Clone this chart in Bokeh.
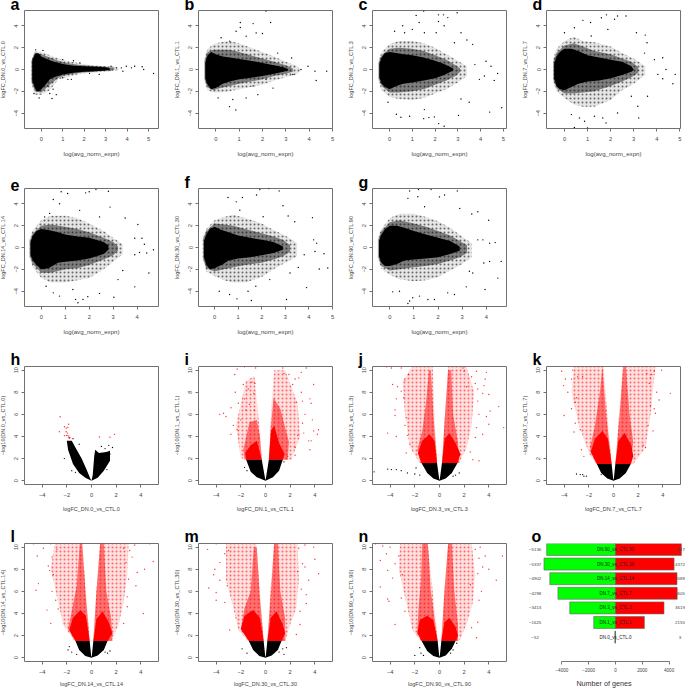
from bokeh.plotting import figure
from bokeh.layouts import column, row
from bokeh.models import Title, FixedTicker, Range1d
from bokeh.core.properties import value
from bokeh.embed import file_html
from bokeh.resources import INLINE

FONT = "Liberation Sans"
MA_X_TICKS = [0, 1, 2, 3, 4, 5]
MA_Y_TICKS = [-4, -2, 0, 2, 4]
V_X_TICKS = [-4, -2, 0, 2, 4]
V_Y_TICKS = [0, 2, 4, 6, 8, 10]

# ---------- MA plots: core band, mid band, sparse band, single points
a_cx = [-0.42, -0.3, -0.2, -0.1, 0, 0.2, 0.4, 0.6, 1, 1.5, 2, 2.5, 3, 3.2]
a_chi = [0.8, 1.4, 1.5, 1.45, 1.2, 1.0, 0.85, 0.7, 0.5, 0.35, 0.3, 0.25, 0.2, 0.1]
a_clo = [-1.0, -1.7, -2.0, -2.0, -1.8, -1.4, -0.9, -0.7, -0.45, -0.3, -0.2, -0.15, -0.1, 0.0]
a_mx = [-0.45, -0.3, 0, 0.4, 0.8, 1.2, 1.8, 2.4, 3, 3.4]
a_mhi = [0.8, 1.55, 1.4, 1.1, 0.8, 0.6, 0.42, 0.32, 0.25, 0.15]
a_mlo = [-1.05, -2, -2.1, -1.4, -0.75, -0.5, -0.3, -0.2, -0.12, -0.02]
a_hx = [-0.48, -0.3, 0, 0.4, 0.8, 1.2, 1.8, 2.4, 3, 3.6]
a_hhi = [0.7, 1.7, 1.6, 1.3, 1.0, 0.8, 0.55, 0.4, 0.3, 0.2]
a_hlo = [-1.1, -2.3, -2.3, -1.9, -0.9, -0.7, -0.4, -0.3, -0.2, -0.05]
a_px = [3.73, 4.2, 4.35, 4.7, 4.77, 5.23, 3.96, 0.5, 0.7, -0.34, -0.1, 1.24, 1.4, 1.0, 1.8, 1.5, 1.0, 0.08, -0.26, 3.5, 3.2, 3.25, 3.8, 0.55, 0.4, 0.3, 2.7, 2.25]
a_py = [0.15, 0.15, 0.3, 0.25, 0, -0.37, 0.3, -2.66, -2.3, -2.2, -2.6, -0.9, -0.9, -0.75, 0.6, 0.8, 0.9, 1.75, 1.8, 0.15, -0.06, 0.3, -0.15, -1.8, -2.2, -1.5, -0.45, -0.35]

b_cx = [-0.45, -0.35, -0.2, 0, 0.3, 0.6, 1, 1.5, 2, 2.5, 2.9, 3.1]
b_chi = [0.6, 1.3, 1.6, 1.4, 1.2, 1.1, 0.95, 0.8, 0.6, 0.4, 0.2, 0.05]
b_clo = [-0.8, -1.4, -1.8, -1.7, -1.3, -1.1, -0.9, -0.75, -0.6, -0.4, -0.2, -0.1]
b_mx = [-0.48, -0.35, -0.1, 0.2, 0.6, 1, 1.5, 2, 2.5, 3, 3.3]
b_mhi = [0.8, 1.6, 1.8, 1.8, 1.8, 1.6, 1.3, 1, 0.7, 0.4, 0.1]
b_mlo = [-0.9, -1.65, -1.9, -1.7, -1.5, -1.3, -1.1, -0.9, -0.6, -0.4, -0.2]
b_hx = [-0.5, -0.35, -0.1, 0.2, 0.6, 1, 1.5, 2, 2.5, 3, 3.4, 3.6]
b_hhi = [1, 1.9, 2.3, 2.5, 2.6, 2.4, 2, 1.6, 1.2, 0.7, 0.4, 0.1]
b_hlo = [-1, -1.9, -2.1, -2.1, -2, -1.8, -1.6, -1.4, -1, -0.7, -0.5, -0.2]
b_px = [1.05, 1.05, 1.6, 2.35, 2.15, 0.59, 0.86, 1.3, 1.8, 4.3, 3.95, 4.75, 4.25, 3.65, 3.3, 3.25, 2.65, 2, 1.73, 1.3, 0.87, 0.6, 0.23, 0.73, 0.1, 2.45, 1.6, 2.15]
b_py = [3.85, 4.3, 4.2, 4.3, 5.35, -3.4, -3.7, -2.6, -2.3, -1, 0.3, -0.15, -0.15, 0, -0.45, 1.05, 1.5, 3.3, 3.35, 3.05, 3.5, 2.6, 2.9, -2.75, -2.6, -1.7, -1.5, -0.9]

c_cx = [-0.45, -0.35, -0.2, 0, 0.3, 0.6, 1, 1.5, 2, 2.4, 2.8]
c_chi = [0.5, 1.1, 1.5, 1.6, 1.5, 1.4, 1.3, 1.1, 0.8, 0.5, 0.1]
c_clo = [-0.7, -1.3, -1.6, -1.8, -1.5, -1.3, -1.2, -1, -0.8, -0.5, -0.1]
c_mx = [-0.48, -0.35, 0, 0.4, 1, 1.5, 2, 2.5, 2.9, 3.1]
c_mhi = [0.6, 1.3, 1.9, 2, 1.9, 1.7, 1.3, 0.9, 0.4, 0.1]
c_mlo = [-0.8, -1.5, -2.1, -2.1, -2, -1.8, -1.4, -1, -0.6, -0.2]
c_hx = [-0.5, -0.35, 0, 0.4, 1, 1.5, 2, 2.5, 3, 3.4]
c_hhi = [0.8, 1.6, 2.3, 2.6, 2.6, 2.4, 2, 1.4, 0.8, 0.3]
c_hlo = [-1, -1.9, -2.5, -2.7, -2.8, -2.6, -2.2, -1.8, -1.2, -0.6]
c_px = [1.17, 1.5, 1.3, 2.15, 2.37, 2.15, 2.4, 2.97, 2.56, 3.14, 3.4, 3.65, 2.85, 4.24, 3.75, 4.46, 4.75, 4.17, 3.95, 4.6, 4.4, 4.93, 3.03, 2.16, 1.73, 1.97, 2.4, 1.5, 0.5, 0.88, 0.3, -0.07, 1.53, 3.5, 3.14, 0.22, 0.58, 1, 0.66, 1.53, 2.05]
c_py = [4.95, 5.35, 4.3, 5, 5, 4.4, 4, 5.2, 4.75, 3.36, 2.7, 2.3, 2.45, 0.76, 0.45, 0.3, -0.37, -0.6, -0.9, -1, -3.9, -3.5, -4.2, -4.95, -4.4, -4.34, -5.2, -4.5, -4.37, -4.28, -4.1, -3, -3.67, -3, -2.7, 3.5, 4, 3.67, 3.36, 3.36, 3.36]

d_cx = [-0.45, -0.35, -0.2, 0, 0.3, 0.6, 1, 1.5, 2, 2.5, 2.9, 3]
d_chi = [0.5, 1.2, 1.6, 1.9, 1.9, 1.7, 1.3, 1.1, 0.9, 0.7, 0.3, 0]
d_clo = [-0.8, -1.5, -1.8, -1.9, -1.6, -1.3, -1.1, -1, -0.8, -0.5, -0.2, -0.05]
d_mx = [-0.48, -0.35, 0, 0.4, 0.8, 1.3, 2, 2.5, 2.9, 3.2]
d_mhi = [0.7, 1.5, 2.2, 2.4, 2.1, 1.7, 1.4, 1, 0.7, 0.2]
d_mlo = [-0.9, -1.7, -2.2, -2.2, -2.1, -2, -1.5, -1.1, -0.7, -0.3]
d_hx = [-0.5, -0.35, 0, 0.4, 0.8, 1.3, 2, 2.5, 3, 3.5]
d_hhi = [0.9, 1.9, 2.6, 3, 2.6, 2.5, 2.1, 1.5, 1, 0.3]
d_hlo = [-1, -2, -2.6, -3.2, -3.4, -3.4, -2.8, -1.9, -1.3, -0.5]
d_px = [0.8, 1.13, 1.6, 1.82, 2.3, 2.67, 2.17, 3.12, 3.5, 3.58, 3.47, 4.26, 3.9, 4.4, 4.8, 4.05, 4.26, 4.7, 3.22, 3.18, 3.6, 1.66, 0.43, 1, 0.87, 0.65, 1.8, 0.3, 1.3, 2.3, 2.9, 0.43, 0, 1.16, 1.88]
d_py = [4.5, 4.3, 4.74, 5, 4.9, 4.9, 4.6, 3.36, 3.15, 2.45, 1.5, 1.07, 0.9, 0, -0.45, -0.45, -0.85, -1.3, -4.43, -3.36, -2.45, -4.43, -5.3, -5.35, -4.74, -4.43, -4.9, -4.13, -4.28, -3.98, -2.45, 3.82, 3.36, 3.06, 3.67]

e_cx = [-0.45, -0.35, -0.2, 0, 0.3, 0.7, 1, 1.5, 2, 2.6, 2.8]
e_chi = [0.5, 1.1, 1.5, 1.7, 1.6, 1.4, 1.2, 1, 0.9, 0.5, 0.2]
e_clo = [-0.7, -1.2, -1.6, -2, -1.9, -1.4, -1.3, -1.2, -1, -0.6, -0.2]
e_mx = [-0.48, -0.35, 0, 0.4, 1, 1.5, 2, 2.6, 3, 3.2]
e_mhi = [0.6, 1.3, 2, 2.1, 1.9, 1.7, 1.4, 0.9, 0.5, 0.1]
e_mlo = [-0.8, -1.5, -2.3, -2.3, -2, -1.9, -1.6, -1.1, -0.7, -0.3]
e_hx = [-0.5, -0.35, 0, 0.4, 1, 1.5, 2, 2.6, 3, 3.4]
e_hhi = [0.8, 1.6, 2.5, 2.9, 2.9, 2.7, 2.2, 1.5, 0.9, 0.3]
e_hlo = [-0.9, -1.8, -2.8, -3.2, -3.2, -3, -2.8, -2, -1.3, -0.6]
e_px = [0.83, 1.1, 0.5, 1.85, 2.28, 2, 2.8, 2.87, 3.5, 4.03, 3.9, 4.2, 4.3, 4.68, 4.4, 4.1, 3.9, 4.49, 3.9, 3.03, 2.43, 1.94, 1.74, 1.53, 1.43, 0.76, 0.5, 0.2, 3.2, 3.4, 1.32, 0.35, 0.76, 0.14, 1.6, 2.43]
e_py = [5.1, 4.94, 4.4, 5, 5.3, 5.1, 5.15, 3.7, 2.7, 2.1, 0.85, 0.85, 0.3, -0.2, -0.5, -0.45, -0.66, -2.33, -3.6, -4.55, -4.2, -4.5, -4.75, -5.06, -4.75, -4.45, -4.15, -3.55, -2.94, -2.1, -3.85, 3.12, 4, 2.8, 3.4, 2.8]

f_cx = [-0.45, -0.35, -0.2, 0, 0.3, 0.6, 1, 1.5, 2, 2.5, 2.9]
f_chi = [0.6, 1.2, 1.7, 1.9, 1.6, 1.4, 1.1, 0.9, 0.7, 0.5, 0.1]
f_clo = [-0.9, -1.6, -2, -1.9, -1.6, -1.2, -1, -0.9, -0.7, -0.5, -0.2]
f_mx = [-0.48, -0.35, 0, 0.4, 0.8, 1.3, 2, 2.5, 2.9, 3.2]
f_mhi = [0.8, 1.5, 2.2, 2.1, 2, 1.7, 1.3, 1, 0.7, 0.2]
f_mlo = [-1, -1.9, -2.2, -2, -1.8, -1.6, -1.4, -1.1, -0.8, -0.4]
f_hx = [-0.5, -0.35, 0, 0.4, 0.8, 1.3, 2, 2.5, 3, 3.5]
f_hhi = [0.9, 1.7, 2.5, 2.8, 3, 2.7, 2.2, 1.6, 1.1, 0.4]
f_hlo = [-1.1, -2.2, -2.6, -3, -3.2, -3.2, -2.7, -2, -1.4, -0.8]
f_px = [2.3, 1.92, 2.74, 1.78, 1.18, 0.57, 0.92, 2.9, 3.12, 3.4, 4.15, 4.2, 4.33, 4.26, 4.64, 3.8, 4.44, 4.8, 3.9, 3.05, 1.56, 0.95, 0.64, 0.2, 1.75, 3.2, 3.55, 2.34, 1.42, 1.07, 2.06]
f_py = [5.4, 5.3, 5.18, 4.8, 4.58, 4.58, 4.18, 3.82, 2.88, 2.36, 2.73, 0.7, 0.4, -0.36, -0.57, -0.66, -1.97, -1.88, -3.67, -4.76, -4.85, -4.7, -4.3, -4, -3.55, -2.33, -1.82, -2.94, -4, 3.42, 2.82]

g_cx = [-0.45, -0.35, -0.2, 0, 0.3, 0.6, 1, 1.5, 2, 2.5, 2.9]
g_chi = [0.6, 1.2, 1.7, 2, 2, 1.8, 1.5, 1.2, 0.9, 0.6, 0.1]
g_clo = [-0.8, -1.4, -1.7, -1.7, -1.5, -1.2, -1.1, -1, -0.9, -0.6, -0.3]
g_mx = [-0.48, -0.35, 0, 0.4, 1, 1.5, 2, 2.5, 2.9, 3.2]
g_mhi = [0.7, 1.5, 2.3, 2.5, 2.2, 1.9, 1.5, 1.1, 0.6, 0.2]
g_mlo = [-0.9, -1.7, -2.1, -2, -1.8, -1.7, -1.5, -1.2, -0.9, -0.5]
g_hx = [-0.5, -0.35, 0, 0.4, 1, 1.5, 2, 2.5, 3, 3.4]
g_hhi = [0.9, 1.7, 2.7, 3.1, 3.1, 2.8, 2.4, 1.8, 1, 0.4]
g_hlo = [-1, -2, -2.5, -2.9, -3.1, -3, -2.7, -2.1, -1.5, -0.9]
g_px = [0.82, 1.19, 1.71, 2.27, 2.06, 2.8, 2.9, 3.65, 3.4, 4.1, 3.86, 3.65, 4.14, 4.37, 4.62, 3.9, 4.14, 4.48, 3.95, 3.17, 2.68, 2.4, 1.85, 1.58, 1.23, 0.95, 0.82, 0.75, 0.12, 0.4, 3.44, 3.3, 0.75, 1.16, 1.44]
g_py = [5.18, 5.3, 5.3, 4.8, 4.63, 5.18, 3.58, 3.27, 3.06, 2.5, 0.7, 0.7, 0.4, 0.45, -1.27, -1.42, -1.27, -2.8, -3.85, -3.6, -4.3, -4.15, -4.76, -4.76, -4.45, -4.6, -4.9, -5.12, -4.06, -4, -2.33, -2.18, 4.5, 4.64, 3.73]

# ---------- Volcano plots: black base outline, solid / mid / sparse red outlines, single points
h_lx = [0, -0.5, -1, -1.5, -1.9, -2, -1.6, -1.2, -0.8, -0.4, -0.1]
h_ly = [0, 0.25, 0.7, 1.5, 2.8, 3.6, 3.6, 2.8, 2, 1, 0.2]
h_rx = [0, 0.1, 0.22, 0.3, 0.6, 1.2, 1.5, 1.5, 1, 0.5]
h_ry = [0, 0.5, 2.2, 2.8, 2.5, 2.6, 2.7, 1.8, 0.9, 0.25]
h_redx = [-2.54, -1.86, -2.19, -1.92, -2.05, -2.6, -2.19, -1.84, -2, -1.78, 0.65, 1.49, 1.86, -2.05, -1.95, -2, -1.85, -1.75]
h_redy = [5.78, 5.1, 4.88, 4.82, 4.43, 4.43, 4.07, 3.89, 4.07, 3.83, 3.95, 3.92, 4.19, 4.75, 4.3, 4.1, 4.05, 3.9]
h_blkx = [-2.2, -1.6, -1.3, 1.5, 1.7, 1.4, 0.8, 1.1, 1.25, -1.5, -1]
h_blky = [2, 0.9, 0.75, 2.4, 3, 3.2, 3.1, 2.9, 1, 3.8, 3.3]

i_bx = [-1.57, -1.2, -0.7, 0, 0.6, 1.1, 1.4, 0.27, 0.02, -0.02, -0.3]
i_by = [1.9, 0.8, 0.3, 0, 0.3, 0.9, 1.9, 1.9, 0.1, 0.1, 1.9]
i_dlx = [-1.57, -1.65, -1.2, -0.7, -0.3]
i_dly = [1.9, 2.5, 3.2, 3.6, 1.9]
i_drx = [0.27, 0.45, 0.7, 1.1, 1.55, 1.4]
i_dry = [1.9, 4.5, 5, 3.4, 2.4, 1.9]
i_clx = [-1.7, -1.8, -1.3, -0.7, -0.45, -0.3]
i_cly = [1.9, 2.8, 5.3, 5.5, 4, 1.9]
i_crx = [0.27, 0.45, 0.65, 1.2, 1.9, 1.8]
i_cry = [1.9, 5, 7.5, 6.5, 3.5, 1.9]
i_slx = [-2, -2.4, -1.6, -0.9, -0.5, -0.3]
i_sly = [2, 5, 9, 9.5, 5, 2]
i_srx = [0.27, 0.5, 0.7, 1.6, 2.6, 2.8, 2.1]
i_sry = [1.9, 7, 10, 10, 7, 4, 1.9]
i_redx = [-2.5, -2.3, -1.7, -0.8, -2.45, -1.8, -1.1, -0.85, -1.4, -0.95, -1.7, -2.2, -2.8, -3.4, -3.7, -3.2, -2.6, -2.8, -2.3, -2, -1.3, -1.6, -0.9, 1.4, 3.3, 2.9, 2.4, 2.7, 3.9, 1.9, 1.5, 2.2, 2.9, 3, 2.5, 3.6, 3.7, 3.8, 3.2, 3, 4.3, 3.9, 4.2, 3.1, 3.5, 3.7, 3.6, 2.4, 1.8, 2.4, 2.6]
i_redy = [9.6, 10.1, 10.3, 10.2, 8, 8.7, 8.9, 8.8, 8.3, 7.9, 7.4, 7, 6.6, 6.1, 6, 5.8, 5, 4.2, 4.6, 5.5, 6.9, 6.4, 6.4, 10.2, 10.2, 9.8, 9.2, 9.3, 8.7, 9.6, 9.7, 8.7, 8, 7.2, 7.1, 7.4, 7, 5.5, 6, 5.2, 4.6, 4.5, 4.2, 4.3, 3.6, 3.6, 2.8, 2.3, 2.2, 3, 4.1]
i_blkx = [-1.7, -1.5, 1.5]
i_blky = [1.2, 0.9, 1.7]

j_bx = [-1.46, -1, -0.5, 0, 0.5, 1, 1.46, 0.2, 0.02, -0.02, -0.2]
j_by = [1.6, 0.7, 0.2, 0, 0.2, 0.7, 1.6, 1.6, 0.1, 0.1, 1.6]
j_dlx = [-1.46, -1.75, -1.4, -0.8, -0.4, -0.2]
j_dly = [1.6, 2.5, 3.6, 4.2, 3.6, 1.6]
j_drx = [0.2, 0.42, 0.8, 1.3, 1.7, 1.46]
j_dry = [1.6, 3.8, 4.3, 3.4, 2.4, 1.6]
j_clx = [-1.5, -1.8, -1.4, -1.1, -0.85, -0.7, -0.5, -0.2]
j_cly = [1.6, 2.8, 4.5, 7, 10, 10, 6, 1.6]
j_crx = [0.2, 0.45, 0.7, 0.95, 1.1, 1.5, 1.6]
j_cry = [1.6, 6, 10, 10, 6, 3.5, 1.6]
j_slx = [-1.6, -2.4, -2.8, -3, -2.2, -0.55, -0.45, -0.2]
j_sly = [1.6, 3, 6, 9, 10.33, 10.33, 7, 1.6]
j_srx = [0.2, 0.5, 0.7, 2.2, 2.8, 2.6, 2.2, 1.6]
j_sry = [1.6, 7, 10.33, 10.33, 8, 5, 3, 1.6]
j_redx = [-4.3, -3.9, -3.1, -3.8, -3.4, -3.5, -3.1, -2.8, -2.5, -3.6, -3.6, -2.9, -4.2, -3.5, -2.7, -2.8, -2.6, -2.7, -2.4, 3, 3.8, 2.9, 3.1, 3.7, 3.6, 4, 3.5, 3.1, 4.8, 4.1, 3.8, 3.2, 4, 5.2, 3.5, 3, 2.9, 3.2, 2.7, 2.5, 2.2, 2.6, 2, 1.9]
j_redy = [10.3, 10.2, 10.2, 8.7, 8.5, 7.4, 8.1, 9.1, 9.6, 6.4, 5.9, 7.5, 4.3, 4, 5.7, 5, 4.1, 2.5, 3.3, 9.9, 9.8, 8.8, 8.3, 9.2, 8.6, 7.8, 7.9, 7.2, 6.7, 6.3, 5.8, 6, 5.1, 4.8, 4.2, 4.8, 3.9, 1.8, 1.9, 2.6, 8.5, 9.4, 9.9, 10.2]
j_blkx = [-5.3, -4.2, -3.9, -3.5, -3.1, -2.6, -1.9, -2, -1.6, 1.3, 1.6, 1.1]
j_blky = [0.8, 1.05, 1, 1, 0.9, 0.7, 1.15, 0.6, 0.5, 0.5, 0.7, 0.4]

k_bx = [-1.35, -1, -0.5, 0, 0.5, 1, 1.4, 0.15, 0.02, -0.02, -0.15]
k_by = [1.5, 0.7, 0.2, 0, 0.2, 0.7, 1.5, 1.5, 0.1, 0.1, 1.5]
k_dlx = [-1.35, -1.85, -1.5, -0.9, -0.45, -0.15]
k_dly = [1.5, 2.6, 3.8, 4.5, 3.8, 1.5]
k_drx = [0.15, 0.4, 0.9, 1.45, 1.6, 1.4]
k_dry = [1.5, 3.6, 4.3, 3.2, 2.2, 1.5]
k_clx = [-1.35, -1.9, -1.5, -1.1, -0.9, -0.6, -0.15]
k_cly = [1.5, 3, 5, 8, 10.33, 6, 1.5]
k_crx = [0.15, 0.5, 0.8, 1, 1.3, 1.6, 1.4]
k_cry = [1.5, 6, 10.33, 10.33, 6, 3.5, 1.5]
k_slx = [-1.4, -2, -2.8, -3.4, -3.2, -0.8, -0.5, -0.15]
k_sly = [1.5, 2.5, 5, 8, 10.33, 10.33, 6, 1.5]
k_srx = [0.15, 0.45, 0.75, 3.4, 3, 2.6, 1.6]
k_sry = [1.5, 6, 10.33, 10.33, 6, 3, 1.5]
k_redx = [-4.2, -3.9, -4.05, -3.3, -3.4, -3.7, -4, -3.1, -3.4, -2.9, -3, -2.5, -3.1, -3.2, -2.7, -2.6, -2.4, 3.9, 3.3, 3, 2.9, 3.5, 4.6, 3.7, 3.3, 3.4, 3, 3.2, 2.8, 2.4, 2.6, 3.1, 2.7]
k_redy = [9.9, 9.2, 8.6, 10, 9.2, 8, 5.9, 7.1, 6.5, 9.4, 7.5, 9.4, 5.2, 4.4, 4.6, 2.8, 2.2, 10, 9.9, 9.3, 8.8, 8, 7.9, 7.3, 6.5, 6.1, 6.8, 4.5, 5, 3.2, 3, 9.6, 9.7]
k_blkx = [-3, -2.7, -2.5, -2.4, -2.2, -1]
k_blky = [0.6, 0.55, 0.55, 0.4, 0.4, 0.55]

l_bx = [-1.3, -1, -0.5, 0, 0.5, 1, 1.3, 0.15, 0.02, -0.02, -0.15]
l_by = [1.5, 0.7, 0.15, 0, 0.2, 0.7, 1.5, 1.5, 0.1, 0.1, 1.5]
l_dlx = [-1.3, -1.8, -1.5, -0.9, -0.45, -0.15]
l_dly = [1.5, 2.5, 3.6, 4.3, 3.8, 1.5]
l_drx = [0.15, 0.4, 0.9, 1.4, 1.7, 1.3]
l_dry = [1.5, 3.5, 4.2, 3.2, 2.2, 1.5]
l_clx = [-1.3, -1.9, -1.6, -1.2, -0.95, -0.75, -0.5, -0.15]
l_cly = [1.5, 2.6, 4.2, 6.5, 10.33, 10.33, 6, 1.5]
l_crx = [0.15, 0.4, 0.7, 1, 1.2, 1.6, 1.7]
l_cry = [1.5, 6, 10.33, 10.33, 6, 3.5, 1.5]
l_slx = [-1.4, -2.3, -2.8, -3.3, -3, -0.75, -0.45, -0.15]
l_sly = [1.5, 3, 5.5, 8, 10.33, 10.33, 6, 1.5]
l_srx = [0.15, 0.4, 0.7, 3, 2.9, 2.6, 2.2, 1.6]
l_sry = [1.5, 6, 10.33, 10.33, 7.5, 5, 3, 1.5]
l_redx = [-4.7, -4.4, -3.9, -3.3, -3.5, -3.2, -2.8, -3.4, -3.1, -4.5, -4.3, -3.6, -3.3, -3.2, -2.9, -2.7, 4.7, 5, 4.3, 3.7, 3.1, 3.3, 3.6, 3, 2.9, 4.2, 2.9, 2.6, 3.5, 2.6, 2.8]
l_redy = [10.3, 9.2, 9.9, 10.3, 8.3, 9.1, 9.8, 7.9, 7.5, 6.1, 6.7, 4.3, 3.1, 6, 5.2, 4.4, 10.3, 8.7, 8, 7.7, 9.7, 9.1, 6.5, 7.1, 5.5, 4, 4.6, 3.1, 10.2, 9.9, 8.6]
l_blkx = [-1.8, -1.9, -1.6, -1.2, 1.3, 1.5, 1.1]
l_blky = [1, 0.7, 0.5, 0.3, 0.4, 0.6, 0.5]

m_bx = [-1.35, -1, -0.5, 0, 0.5, 1, 1.3, 0.15, 0.02, -0.02, -0.15]
m_by = [1.5, 0.7, 0.15, 0, 0.2, 0.7, 1.5, 1.5, 0.1, 0.1, 1.5]
m_dlx = [-1.35, -2, -1.7, -1, -0.45, -0.15]
m_dly = [1.5, 2.6, 3.8, 4.3, 3.6, 1.5]
m_drx = [0.15, 0.42, 0.9, 1.4, 1.6, 1.3]
m_dry = [1.5, 3.6, 4.2, 3, 2.2, 1.5]
m_clx = [-1.35, -2, -1.7, -1.2, -0.95, -0.7, -0.5, -0.15]
m_cly = [1.5, 2.6, 4.5, 6, 10, 10, 6, 1.5]
m_crx = [0.15, 0.45, 0.7, 1, 1.2, 1.6, 1.6]
m_cry = [1.5, 6, 10.33, 10.33, 6, 3.5, 1.5]
m_slx = [-1.4, -2.2, -2.6, -3.2, -3.2, -0.75, -0.45, -0.15]
m_sly = [1.5, 2.5, 4.5, 7, 10.33, 10.33, 6, 1.5]
m_srx = [0.15, 0.4, 0.7, 2.6, 2.7, 2.5, 2, 1.6]
m_sry = [1.5, 6, 10.33, 10.33, 7, 4.5, 3, 1.5]
m_redx = [-4.7, -4, -3.7, -4.1, -3.3, -3, -4.2, -3.7, -4.6, -4, -4, -3.3, -3.1, -2.9, -2.4, 3.9, 3.2, 2.7, 4, 4.3, 3.2, 3, 3.5, 3.3, 3.3, 2.8, 2.8, 2.5, 2.9, 2.6]
m_redy = [9.8, 10.3, 8.6, 8, 9.4, 9.7, 7.5, 7, 6.3, 5.9, 5.2, 5, 6.5, 2.5, 3.6, 10, 10.2, 9.9, 8.9, 7.6, 8.2, 8.5, 7, 5.7, 4.9, 4.2, 3, 2.1, 6.2, 7.8]
m_blkx = [-1.9, -1.5, 1.7, 1.4, 1.5, 1.1]
m_blky = [0.8, 0.4, 0.9, 0.8, 0.3, 0.5]

n_bx = [-1.45, -1, -0.5, 0, 0.5, 1, 1.3, 0.15, 0.02, -0.02, -0.15]
n_by = [1.5, 0.6, 0.15, 0, 0.2, 0.8, 1.5, 1.5, 0.1, 0.1, 1.5]
n_dlx = [-1.45, -1.8, -1.6, -1, -0.5, -0.15]
n_dly = [1.5, 2.2, 3.4, 3.8, 3.4, 1.5]
n_drx = [0.15, 0.4, 0.8, 1.3, 1.5, 1.3]
n_dry = [1.5, 3.2, 3.6, 2.8, 2, 1.5]
n_clx = [-1.45, -1.8, -1.7, -1.5, -1.4, -0.95, -0.7, -0.15]
n_cly = [1.5, 2.4, 4.5, 7, 10.33, 10.33, 6, 1.5]
n_crx = [0.15, 0.4, 0.7, 1, 1.2, 1.5, 1.5]
n_cry = [1.5, 6, 10.33, 10.33, 6, 3, 1.5]
n_slx = [-1.5, -2.2, -2.7, -3.3, -3.2, -0.95, -0.55, -0.15]
n_sly = [1.5, 2.5, 5, 8, 10.33, 10.33, 6, 1.5]
n_srx = [0.15, 0.4, 0.7, 2.6, 2.9, 2.7, 2.2, 1.6]
n_sry = [1.5, 6, 10.33, 10.33, 7.5, 5, 3, 1.5]
n_redx = [-5.2, -4.6, -4, -4.8, -4.3, -4.2, -3.8, -3.6, -3.3, -4.8, -4.2, -4.1, -3.6, -3, -3.1, -2.8, 5.1, 4.6, 4, 3.7, 3.3, 3.2, 3.1, 3.4, 3.2, 3.1, 3, 2.6, 3.5, 2.9, 2.5]
n_redy = [10.3, 10.1, 10, 8.8, 9.4, 7.9, 7.2, 8.5, 9.2, 6.4, 5.3, 5.1, 3, 7.5, 5.4, 4.2, 9.2, 7, 8, 9.2, 10, 9, 7.6, 6, 5.2, 3.2, 1.8, 2.7, 8.2, 9.8, 6.6]
n_blkx = [-2, -1.6, -1.5, -1.3, 1.4, 1.1, 0.9]
n_blky = [0.2, 0.9, 0.4, 0.2, 1.3, 0.7, 0.4]

# ---------- Gene count bars
bar_names = ["DN.90_vs_CTL.90", "DN.30_vs_CTL.30", "DN.14_vs_CTL.14", "DN.7_vs_CTL.7", "DN.3_vs_CTL.3", "DN.1_vs_CTL.1", "DN.0_vs_CTL.0"]
bar_down = [-5136, -5337, -4902, -4298, -3413, -1625, -52]
bar_up = [4917, 4372, 4589, 4605, 3619, 2155, 3]
bar_pos = [7, 6, 5, 4, 3, 2, 1]
bar_ticks = [-4000, -2000, 0, 2000, 4000]

TOP = 18
LEFT = 30


def letter_title(p, letter, off):
    p.add_layout(Title(text=letter, align="left", offset=off, standoff=-3, text_font=FONT, text_font_size="16px",
                       text_font_style="bold", text_color="black", text_line_height=0.7), "above")


def base(xr, yr, bottom, right, letter):
    p = figure(frame_width=134, frame_height=118, x_range=Range1d(*xr), y_range=Range1d(*yr),
               output_backend="svg", toolbar_location=None,
               min_border_left=LEFT, min_border_right=right, min_border_top=TOP, min_border_bottom=bottom)
    p.grid.visible = False
    p.outline_line_color = "#707070"
    p.outline_line_width = 1
    for ax in (p.xaxis[0], p.yaxis[0]):
        ax.axis_line_color = None
        ax.major_tick_line_color = "#707070"
        ax.minor_tick_line_color = None
        ax.major_tick_out = 3
        ax.major_tick_in = 0
        ax.major_label_text_font = FONT
        ax.major_label_text_font_size = "5.7px"
        ax.major_label_text_color = "#444444"
        ax.axis_label_text_font = FONT
        ax.axis_label_text_font_size = "5.5px"
        ax.axis_label_text_font_style = "normal"
        ax.axis_label_text_color = "#444444"
    letter_title(p, letter, -14)
    return p


def finish(p, xt, yt, xlabel, ylabel, xstand):
    p.xaxis[0].ticker = FixedTicker(ticks=xt)
    p.yaxis[0].ticker = FixedTicker(ticks=yt)
    p.xaxis[0].major_label_overrides = {t: str(t).replace("-", "\u2212") for t in xt}
    p.yaxis[0].major_label_overrides = {t: str(t).replace("-", "\u2212") for t in yt}
    p.yaxis[0].major_label_orientation = "vertical"
    p.xaxis[0].major_label_standoff = 5
    p.yaxis[0].major_label_standoff = 3
    p.xaxis[0].axis_label = xlabel
    p.yaxis[0].axis_label = ylabel
    p.xaxis[0].axis_label_standoff = xstand
    p.yaxis[0].axis_label_standoff = 6


def ma(suffix, xr, cx, chi, clo, mx, mhi, mlo, hx, hhi, hlo, px, py, bottom, right, letter):
    p = base(xr, (-5.4, 5.4), bottom, right, letter)
    p.varea(hx, hlo, hhi, fill_color="black", fill_alpha=0.1, hatch_pattern="dot", hatch_color="black", hatch_scale=4, hatch_weight=1, hatch_alpha=0.55)
    p.varea(mx, mlo, mhi, fill_color="black", fill_alpha=0.45)
    p.varea(cx, clo, chi, fill_color="black", fill_alpha=1)
    p.scatter(px, py, size=1.4, marker="circle", fill_color="black", line_color=None)
    finish(p, MA_X_TICKS, MA_Y_TICKS, "log(avg_norm_expn)", "logFC_DN." + suffix + "_vs_CTL." + suffix, 6)
    p.xaxis[0].axis_label_text_font_size = "6.1px"
    return p


def volcano(suffix, blk, sl, sr, cl, cr, dl, dr, red, pts, bottom, right, letter, xstand=6):
    p = base((-5.43, 5.43), (-0.35, 10.33), bottom, right, letter)
    for poly in (sl, sr):
        if poly:
            p.patch(poly[0], poly[1], fill_color="red", fill_alpha=0.12, line_color=None, hatch_pattern="dot", hatch_color="red", hatch_scale=4, hatch_weight=1, hatch_alpha=0.55)
    for poly in (cl, cr):
        if poly:
            p.patch(poly[0], poly[1], fill_color="red", fill_alpha=0.5, line_color=None)
    for poly in (dl, dr):
        if poly:
            p.patch(poly[0], poly[1], fill_color="red", fill_alpha=1, line_color=None)
    for poly in blk:
        p.patch(poly[0], poly[1], fill_color="black", line_color=None)
    p.scatter(red[0], red[1], size=1.4, marker="circle", fill_color="red", fill_alpha=0.8, line_color=None)
    p.scatter(pts[0], pts[1], size=1.3, marker="circle", fill_color="black", line_color=None)
    finish(p, V_X_TICKS, V_Y_TICKS, "logFC_DN." + suffix + "_vs_CTL." + suffix, "\u2212log10(DN." + suffix + "_vs_CTL." + suffix + ")", xstand)
    return p


pa = ma("0", (-0.78, 5.46), a_cx, a_chi, a_clo, a_mx, a_mhi, a_mlo, a_hx, a_hhi, a_hlo, a_px, a_py, 42, 10, "a")
pb = ma("1", (-0.74, 5.0), b_cx, b_chi, b_clo, b_mx, b_mhi, b_mlo, b_hx, b_hhi, b_hlo, b_px, b_py, 42, 10, "b")
pc = ma("3", (-0.75, 5.14), c_cx, c_chi, c_clo, c_mx, c_mhi, c_mlo, c_hx, c_hhi, c_hlo, c_px, c_py, 42, 10, "c")
pd_ = ma("7", (-0.78, 5.03), d_cx, d_chi, d_clo, d_mx, d_mhi, d_mlo, d_hx, d_hhi, d_hlo, d_px, d_py, 42, 3, "d")
pe = ma("14", (-0.7, 4.89), e_cx, e_chi, e_clo, e_mx, e_mhi, e_mlo, e_hx, e_hhi, e_hlo, e_px, e_py, 42, 10, "e")
pf = ma("30", (-0.68, 5.0), f_cx, f_chi, f_clo, f_mx, f_mhi, f_mlo, f_hx, f_hhi, f_hlo, f_px, f_py, 42, 10, "f")
pg = ma("90", (-0.72, 4.84), g_cx, g_chi, g_clo, g_mx, g_mhi, g_mlo, g_hx, g_hhi, g_hlo, g_px, g_py, 42, 10, "g")

ph = volcano("0", [(h_lx, h_ly), (h_rx, h_ry)], None, None, None, None, None, None, (h_redx, h_redy), (h_blkx, h_blky), 41, 10, "h")
pi = volcano("1", [(i_bx, i_by)], (i_slx, i_sly), (i_srx, i_sry), (i_clx, i_cly), (i_crx, i_cry), (i_dlx, i_dly), (i_drx, i_dry), (i_redx, i_redy), (i_blkx, i_blky), 41, 10, "i")
pj = volcano("3", [(j_bx, j_by)], (j_slx, j_sly), (j_srx, j_sry), (j_clx, j_cly), (j_crx, j_cry), (j_dlx, j_dly), (j_drx, j_dry), (j_redx, j_redy), (j_blkx, j_blky), 41, 10, "j")
pk = volcano("7", [(k_bx, k_by)], (k_slx, k_sly), (k_srx, k_sry), (k_clx, k_cly), (k_crx, k_cry), (k_dlx, k_dly), (k_drx, k_dry), (k_redx, k_redy), (k_blkx, k_blky), 41, 3, "k")
pl = volcano("14", [(l_bx, l_by)], (l_slx, l_sly), (l_srx, l_sry), (l_clx, l_cly), (l_crx, l_cry), (l_dlx, l_dly), (l_drx, l_dry), (l_redx, l_redy), (l_blkx, l_blky), 30, 10, "l", 4)
pm = volcano("30", [(m_bx, m_by)], (m_slx, m_sly), (m_srx, m_sry), (m_clx, m_cly), (m_crx, m_cry), (m_dlx, m_dly), (m_drx, m_dry), (m_redx, m_redy), (m_blkx, m_blky), 30, 10, "m", 4)
pn = volcano("90", [(n_bx, n_by)], (n_slx, n_sly), (n_srx, n_sry), (n_clx, n_cly), (n_crx, n_cry), (n_dlx, n_dly), (n_drx, n_dry), (n_redx, n_redy), (n_blkx, n_blky), 30, 10, "n", 4)

po = figure(frame_width=163, frame_height=118, x_range=Range1d(-6940, 5224), y_range=Range1d(-0.67, 7.41),
            output_backend="svg", toolbar_location=None,
            min_border_left=6, min_border_right=0, min_border_top=TOP, min_border_bottom=30)
po.grid.visible = False
po.outline_line_color = None
po.yaxis.visible = False
po.hbar(y=bar_pos, left=bar_down, right=[0] * 7, height=0.82, fill_color="#00ff00", line_color="#666666", line_width=0.6)
po.hbar(y=bar_pos, left=[0] * 7, right=bar_up, height=0.82, fill_color="#ff0000", line_color="#666666", line_width=0.6)
po.text(x=[0] * 7, y=bar_pos, text=bar_names, text_font=value(FONT), text_font_size="4.5px", text_color="#222222",
        text_align="center", text_baseline="middle")
po.text(x=[-6000] * 7, y=bar_pos, text=[str(v).replace("-", "\u2212") for v in bar_down], text_font=value(FONT), text_font_size="4.4px",
        text_color="#444444", text_align="center", text_baseline="middle")
po.text(x=[4810] * 7, y=bar_pos, text=[str(v) for v in bar_up], text_font=value(FONT), text_font_size="4.4px",
        text_color="#444444", text_align="center", text_baseline="middle")
ax = po.xaxis[0]
ax.ticker = FixedTicker(ticks=bar_ticks)
ax.major_label_overrides = {t: str(t).replace("-", "\u2212") for t in bar_ticks}
ax.bounds = (-4000, 4000)
ax.axis_line_color = "#777777"
ax.major_tick_line_color = "#777777"
ax.minor_tick_line_color = None
ax.major_tick_out = 3
ax.major_tick_in = 0
ax.major_label_standoff = 3
ax.major_label_text_font = FONT
ax.major_label_text_font_size = "4.6px"
ax.major_label_text_color = "#444444"
ax.axis_label = "Number of genes"
ax.axis_label_text_font = FONT
ax.axis_label_text_font_size = "7.2px"
ax.axis_label_text_font_style = "normal"
ax.axis_label_text_color = "#333333"
ax.axis_label_standoff = 4
letter_title(po, "o", 9)

# letters of the two upper rows sit right on the frame
for fig in (pa, pb, pc, pd_, pe, pf, pg):
    fig.above[0].standoff = -5

layout = column(row(pa, pb, pc, pd_, spacing=0), row(pe, pf, pg, spacing=0), row(ph, pi, pj, pk, spacing=0), row(pl, pm, pn, po, spacing=0),
                spacing=0, margin=(-8, -8, -8, -6))
open("out.html", "w").write(file_html(layout, INLINE))
